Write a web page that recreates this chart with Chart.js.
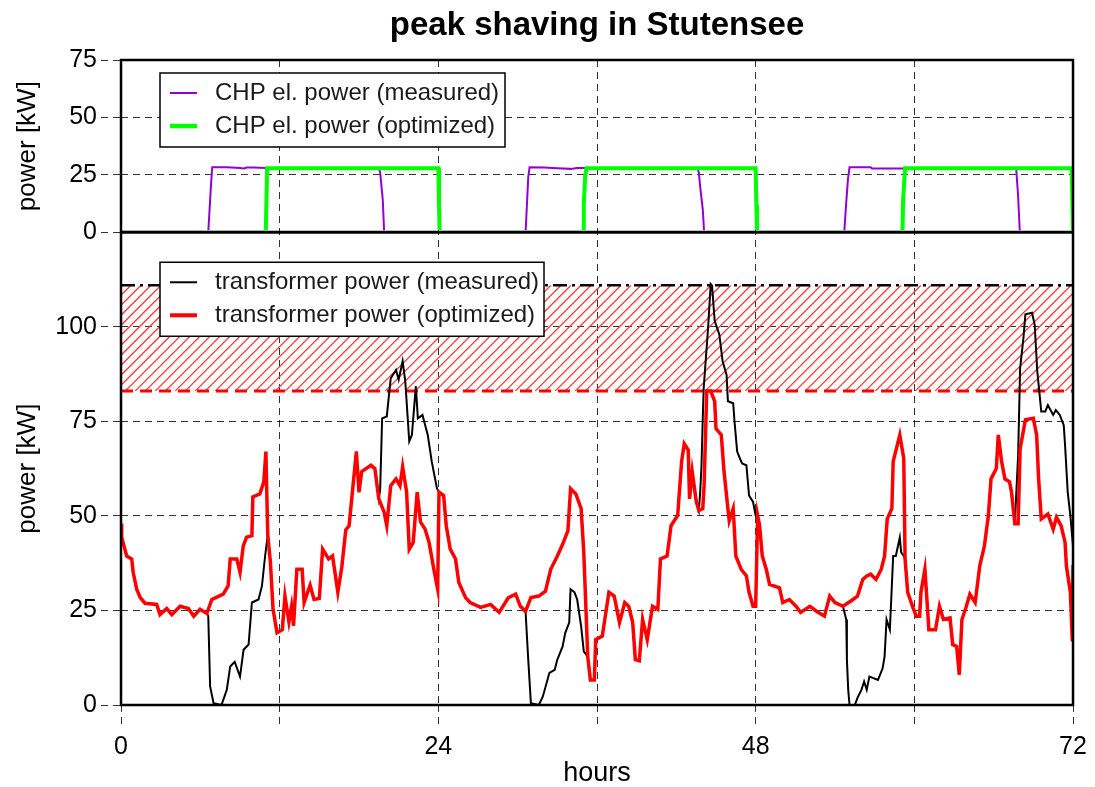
<!DOCTYPE html>
<html lang="en">
<head>
  <meta charset="UTF-8">
  <title>peak shaving in Stutensee</title>
  <script src="https://cdn.jsdelivr.net/npm/chart.js"></script>
  <style>
    body { margin: 0; background: #fff; }
    #chart { display: block; }
  </style>
</head>
<body>
  <canvas id="chart" width="1095" height="787"></canvas>

  <script>
    // [hour, kW]
    const chpMeasured = [
      [0,0],[6.6,0],[6.7,10],[6.8,20],[6.9,28.3],[8,28.3],[9,28],[9.3,27.8],[9.5,28.2],[10,28.2],
      [11,28],[13,28],[15,27.8],[17,28],[19.5,28],[19.6,26],[19.8,14],[19.9,0],
      [30.6,0],[30.7,12],[30.8,24],[30.9,28.3],[32,28.2],[33,27.9],[34,27.6],[34.5,28],[35,28],
      [43.6,27.8],[43.7,26],[43.8,20],[44,10],[44.1,0],
      [54.7,0],[54.85,13],[54.98,23],[55.1,28.3],[56.7,28.3],[56.8,27.8],[59,27.8],
      [67.7,28],[67.85,15.7],[67.97,1],[68.1,0],[72,0]
    ];
    const chpOptimized = [
      [0,0],[10.95,0],[11.0,14],[11.05,27.9],[24.0,27.9],[24.05,12],[24.1,0],
      [34.95,0],[35.0,12],[35.1,24],[35.2,27.9],[48.0,27.9],[48.05,12],[48.1,0],
      [59.1,0],[59.15,14],[59.3,27.9],[71.9,27.9],[72,0]
    ];
    const trafoMeasured = [
      [0,47.9],[0.05,44.4],[0.43,39.4],[0.81,38.6],[0.92,35.1],[1.19,30.6],[1.44,28.5],[1.82,26.9],
      [2.7,26.6],[2.95,23.9],[3.46,25.5],[3.84,23.9],[4.47,26.1],[5.1,25.5],[5.5,23.5],[5.98,25.3],
      [6.49,24.2],[6.6,23.5],[6.74,4.9],[7.0,0.5],[7.6,0],[8.0,4],[8.26,10.2],[8.6,11.4],[9.0,7.5],
      [9.27,14.6],[9.65,16],[9.9,27.1],[10.4,27.9],[10.66,31.5],[10.9,39.4],[11.1,45],
      [11.3,37.7],[11.5,25.3],[11.8,19.1],[12.2,19.9],[12.4,28.8],[12.7,22],[12.9,26.1],[13.05,21],
      [13.3,35.9],[13.7,35.9],[13.85,27.1],[14.3,31.7],[14.6,27.9],[15.0,28.2],[15.25,41.2],
      [15.7,38.6],[16.0,39.4],[16.4,29.8],[16.7,36.5],[17.0,46.3],[17.25,47.4],[17.5,56.3],
      [17.8,67],[18.0,56.3],[18.2,61.7],[18.9,63.4],[19.2,62.5],[19.5,54.5],
      [19.6,57],[19.75,75.8],[20.1,76.3],[20.4,86.4],[20.8,88.6],[21.0,86],[21.3,90.9],[21.5,85.6],
      [21.8,69.7],[22.0,71.4],[22.3,84.3],[22.45,75.8],[22.8,76.7],[23.2,71.4],[23.5,64.4],
      [23.9,57.2],[24.05,56.3],
      [24.4,55.4],[24.6,47.4],[24.9,41.2],[25.3,38.6],[25.55,32.4],[26.06,28.4],[26.4,27.1],
      [27.2,25.8],[27.95,26.6],[28.6,24.5],[29.3,28.4],[29.85,29.3],[30.2,26.1],
      [30.6,24.5],[30.8,12],[31.0,0.5],[31.6,0],[31.9,2.2],[32.4,8.5],[32.8,9.3],[33.0,12],
      [33.4,15.5],[33.6,19.1],[33.9,21.8],[34.0,30.6],[34.3,29.8],[34.5,27.9],[34.8,20.8],
      [35.0,14.2],[35.3,12.8],
      [35.5,6.6],[35.8,6.6],[35.9,17.3],[36.4,18.2],[36.9,29.8],[37.3,28.8],[37.7,21.8],[38.1,27.1],
      [38.4,26.1],[38.7,21.8],[38.9,12],[39.2,11.7],[39.45,22.6],[39.8,17.3],[40.2,26.1],[40.6,25.3],
      [40.8,38.6],[41.3,39.4],[41.6,47.4],[42.1,50.1],[42.4,64.4],[42.6,69.1],[42.9,67.4],[43.0,54.5],
      [43.2,61.7],[43.5,54],[43.7,51.4],
      [43.8,56],[43.9,63],[44.0,76],[44.07,83.8],[44.4,99.7],[44.6,111.3],[44.7,110.9],[44.9,101.6],
      [45.25,98],[45.5,90.9],[45.8,87.3],[45.9,80.3],[46.3,79.8],[46.4,75],[46.6,67],[46.9,64.4],
      [47.0,63.8],[47.3,63.4],[47.5,55.4],[47.8,53.7],[48.0,50.1],[48.15,50.1],
      [48.3,47.4],[48.5,39.4],[48.8,35.9],[49.05,31.9],[49.8,31],[50.05,27.1],[50.55,27.9],
      [51.06,26.1],[51.4,24.5],[52.1,26.1],[52.6,24.8],[53.2,23.5],[53.6,28.8],[54.0,27.1],
      [54.6,26.1],[54.85,22.6],[54.9,12],[55.0,4],[55.1,0],[55.5,0],[55.7,1.9],[56.0,4],[56.2,6.2],
      [56.4,4],[56.6,7.5],[56.9,7.1],[57.25,6.6],[57.6,9.7],[57.75,12.8],[57.9,22.6],[58.15,19.9],
      [58.4,39.4],[58.6,39.4],[58.9,44.3],[59.0,40.4],[59.2,39.4],[59.3,38.6],
      [59.5,29.8],[59.9,25.7],[60.15,23.5],[60.4,23.5],[60.5,29.8],[60.8,35.9],[61.0,25.3],
      [61.1,19.9],[61.6,19.9],[61.9,26.1],[62.2,22.6],[62.7,23],[62.9,16],[63.2,15.5],[63.4,8],
      [63.6,22.6],[63.9,25.7],[64.2,29.3],[64.6,27.1],[64.95,36.8],[65.3,42.1],[65.6,50.1],
      [65.8,59.8],[66.2,62.5],[66.35,71.4],[66.6,64.4],[66.85,59.8],[67.2,59],[67.35,56.3],[67.6,47.9],
      [67.85,66],[68.0,89],[68.25,97],[68.4,103.3],[68.9,103.7],[69.1,100.6],[69.3,88.2],[69.6,77.6],
      [69.9,77.6],[70.1,79.3],[70.5,76.7],[70.7,78],[71.0,76.7],[71.3,74],[71.4,68.7],[71.6,56.3],
      [71.8,50.1],[72.0,42.1]
    ];
    const trafoOptimized = [
      [0,47.9],[0.05,44.4],[0.43,39.4],[0.81,38.6],[0.92,35.1],[1.19,30.6],[1.44,28.5],[1.82,26.9],
      [2.7,26.6],[2.95,23.9],[3.46,25.5],[3.84,23.9],[4.47,26.1],[5.1,25.5],[5.5,23.5],[5.98,25.3],
      [6.49,24.2],[6.87,27.9],[7.73,29.3],[8.1,31.5],[8.26,38.6],[8.76,38.6],[9.0,35.1],[9.25,42.1],
      [9.5,44.4],[9.9,44.8],[9.97,55],[10.5,55.8],[10.8,59],[10.96,67],[11.0,60],[11.1,45],
      [11.3,37.7],[11.5,25.3],[11.8,19.1],[12.2,19.9],[12.4,28.8],[12.7,22],[12.9,26.1],[13.05,21],
      [13.3,35.9],[13.7,35.9],[13.85,27.1],[14.3,31.7],[14.6,27.9],[15.0,28.2],[15.25,41.2],
      [15.7,38.6],[16.0,39.4],[16.4,29.8],[16.7,36.5],[17.0,46.3],[17.25,47.4],[17.5,56.3],
      [17.8,67],[18.0,56.3],[18.2,61.7],[18.9,63.4],[19.2,62.5],[19.5,54.5],[19.9,51],[20.1,47.4],
      [20.4,58],[20.8,59.8],[21.1,58],[21.3,63],[21.6,56.3],[21.8,41.2],[22.1,43],[22.4,56.3],
      [22.65,48.4],[23.0,46.5],[23.3,43],[23.7,35.1],[23.95,30.6],[24.05,56.3],
      [24.4,55.4],[24.6,47.4],[24.9,41.2],[25.3,38.6],[25.55,32.4],[26.06,28.4],[26.4,27.1],
      [27.2,25.8],[27.95,26.6],[28.6,24.5],[29.3,28.4],[29.85,29.3],[30.2,26.1],[30.6,24.8],
      [31.0,28.4],[31.6,28.8],[32.1,30.1],[32.5,35.9],[33.0,39.4],[33.4,42.5],[33.8,46.1],[34.0,57.2],
      [34.4,55.8],[34.8,51.9],[35.0,40.4],[35.3,12.8],
      [35.5,6.6],[35.8,6.6],[35.9,17.3],[36.4,18.2],[36.9,29.8],[37.3,28.8],[37.7,21.8],[38.1,27.1],
      [38.4,26.1],[38.7,21.8],[38.9,12],[39.2,11.7],[39.45,22.6],[39.8,17.3],[40.2,26.1],[40.6,25.3],
      [40.8,38.6],[41.3,39.4],[41.6,47.4],[42.1,50.1],[42.4,64.4],[42.6,69.1],[42.9,67.4],[43.0,54.5],
      [43.2,61.7],[43.5,54],[43.7,51.4],[44.0,51.9],[44.1,58],[44.3,83],[44.6,83],[44.9,80.3],
      [45.0,73.1],[45.4,71.4],[45.6,62],[45.9,51.9],[46.0,48.7],[46.3,51.9],[46.5,39.4],[46.9,35.9],
      [47.3,34.1],[47.5,29.8],[47.8,26.1],[48.0,26.1],[48.15,50.1],
      [48.3,47.4],[48.5,39.4],[48.8,35.9],[49.05,31.9],[49.8,31],[50.05,27.1],[50.55,27.9],
      [51.06,26.1],[51.4,24.5],[52.1,26.1],[52.6,24.8],[53.2,23.5],[53.6,28.8],[54.0,27.1],
      [54.6,26.1],[55.2,27.5],[55.7,28.8],[56.1,33.2],[56.4,34.1],[56.7,34.6],[57.1,33.2],[57.5,35.9],
      [57.75,39.4],[57.95,49.2],[58.3,51.9],[58.4,64.4],[58.9,71.4],[59.2,65.2],[59.3,38.6],
      [59.5,29.8],[59.9,25.7],[60.15,23.5],[60.4,23.5],[60.5,29.8],[60.8,35.9],[61.0,25.3],
      [61.1,19.9],[61.6,19.9],[61.9,26.1],[62.2,22.6],[62.7,23],[62.9,16],[63.2,15.5],[63.4,8],
      [63.6,22.6],[63.9,25.7],[64.2,29.3],[64.6,27.1],[64.95,36.8],[65.3,42.1],[65.6,50.1],
      [65.8,59.8],[66.2,62.5],[66.35,71.4],[66.6,64.4],[66.85,59.8],[67.2,59],[67.35,56.3],[67.6,47.9],
      [67.85,47.9],[68.0,67.8],[68.4,75.4],[69.0,75.8],[69.25,71.4],[69.4,59.8],[69.6,49.2],
      [70.1,50.5],[70.5,46.5],[70.75,49.6],[71.1,47.4],[71.4,43],[71.5,36.8],[71.8,29.8],
      [71.95,16.8],[72.0,37]
    ];
    // peak levels: measured peak and optimized limit
    const peakHours = [0, 72];
    const peakMeasured = [111, 111];
    const peakOptimized = [83, 83];

    const xTicks = [0, 12, 24, 36, 48, 60, 72];
    const xLabels = ['0', '', '24', '', '48', '', '72'];
    const topTicks = [0, 25, 50, 75];
    const bottomTicks = [0, 25, 50, 75, 100];

    const FONT = '"Liberation Sans", Arial, Helvetica, sans-serif';
    const PURPLE = '#9400d3';
    const GREEN = '#00ff00';
    const RED = '#ff0000';
    const GRID = 'rgba(0,0,0,0.8)';

    const toXY = pairs => pairs.map(p => ({ x: p[0], y: p[1] }));
    const levelXY = vals => peakHours.map((h, i) => ({ x: h, y: vals[i] }));

    function drawLegend(c, x, y, w, h, rows) {
      c.save();
      c.fillStyle = '#fff';
      c.fillRect(x, y, w, h);
      c.strokeStyle = '#000';
      c.lineWidth = 1.5;
      c.strokeRect(x, y, w, h);
      c.font = '24px ' + FONT;
      c.textBaseline = 'middle';
      c.textAlign = 'left';
      rows.forEach((r, i) => {
        const ry = y + 20 + i * 33;
        c.strokeStyle = r.color;
        c.lineWidth = r.width;
        c.beginPath();
        c.moveTo(x + 10, ry);
        c.lineTo(x + 37, ry);
        c.stroke();
        c.fillStyle = '#1a1a1a';
        c.fillText(r.text, x + 55, ry);
      });
      c.restore();
    }

    // red diagonal hatching between the two peak levels
    const peakHatch = {
      id: 'peakHatch',
      beforeDatasetsDraw(chart) {
        const c = chart.ctx;
        const xs = chart.scales.x;
        const ys = chart.scales.yBot;
        const x1 = xs.getPixelForValue(peakHours[0]);
        const x2 = xs.getPixelForValue(peakHours[1]);
        const y1 = ys.getPixelForValue(peakMeasured[0]);
        const y2 = ys.getPixelForValue(peakOptimized[0]);
        const h = y2 - y1;
        c.save();
        c.beginPath();
        c.rect(x1, y1, x2 - x1, h);
        c.clip();
        c.strokeStyle = '#ff3b3b';
        c.lineWidth = 1.3;
        c.beginPath();
        for (let x = x1 - h; x < x2 + 10; x += 10) {
          c.moveTo(x, y2);
          c.lineTo(x + h, y1);
        }
        c.stroke();
        c.restore();
      }
    };

    const decorations = {
      id: 'decorations',
      afterDatasetsDraw(chart) {
        const c = chart.ctx;
        const a = chart.chartArea;
        const yTop = chart.scales.yTop;
        c.save();
        c.strokeStyle = '#000';
        c.lineWidth = 2.5;
        c.strokeRect(a.left, a.top, a.right - a.left, a.bottom - a.top);
        c.lineWidth = 3;
        c.beginPath();
        c.moveTo(a.left, yTop.bottom);
        c.lineTo(a.right, yTop.bottom);
        c.stroke();
        c.restore();

        drawLegend(c, a.left + 39, yTop.top + 13, 345, 74, [
          { text: 'CHP el. power (measured)', color: PURPLE, width: 2 },
          { text: 'CHP el. power (optimized)', color: GREEN, width: 4.5 }
        ]);
        drawLegend(c, a.left + 39, yTop.bottom + 30, 384, 74, [
          { text: 'transformer power (measured)', color: '#000', width: 2 },
          { text: 'transformer power (optimized)', color: RED, width: 4 }
        ]);

        c.save();
        c.font = 'bold 33px ' + FONT;
        c.fillStyle = '#000';
        c.textAlign = 'center';
        c.textBaseline = 'middle';
        c.fillText('peak shaving in Stutensee', (a.left + a.right) / 2, 26);
        c.restore();
      }
    };

    const yCommon = {
      type: 'linear',
      position: 'left',
      stack: 'panels',
      grid: { color: GRID, lineWidth: 1, tickLength: 20, tickBorderDash: [7, 5] },
      border: { display: false, dash: [7, 5] },
      ticks: { color: '#000', font: { size: 25, family: FONT }, padding: 4, autoSkip: false },
      title: { display: true, text: 'power [kW]', color: '#000', font: { size: 26, family: FONT }, padding: { top: 12 } },
      afterFit: s => { s.width = 121; }
    };

    // keep the zero level of the CHP lines under the panel border
    const chpClip = { left: 0, top: 0, right: 0, bottom: -2 };

    new Chart(document.getElementById('chart'), {
      type: 'line',
      data: {
        datasets: [
          { label: 'transformer power (optimized)', data: toXY(trafoOptimized), yAxisID: 'yBot',
            borderColor: RED, borderWidth: 3.5, pointRadius: 0, order: 1 },
          { label: 'transformer power (measured)', data: toXY(trafoMeasured), yAxisID: 'yBot',
            borderColor: '#000', borderWidth: 2, pointRadius: 0, order: 2 },
          { label: 'optimized peak', data: levelXY(peakOptimized), yAxisID: 'yBot',
            borderColor: RED, borderWidth: 3, borderDash: [12, 7], pointRadius: 0, order: 3 },
          { label: 'measured peak', data: levelXY(peakMeasured), yAxisID: 'yBot',
            borderColor: '#000', borderWidth: 2.5, borderDash: [14, 5, 3, 5], pointRadius: 0, order: 4 },
          { label: 'CHP el. power (optimized)', data: toXY(chpOptimized), yAxisID: 'yTop',
            borderColor: GREEN, borderWidth: 4, pointRadius: 0, order: 5, clip: chpClip },
          { label: 'CHP el. power (measured)', data: toXY(chpMeasured), yAxisID: 'yTop',
            borderColor: PURPLE, borderWidth: 2, pointRadius: 0, order: 6, clip: chpClip }
        ]
      },
      options: {
        responsive: false,
        animation: false,
        events: [],
        layout: { padding: { left: 0, right: 22, top: 60, bottom: 0 } },
        plugins: { legend: { display: false }, tooltip: { enabled: false } },
        scales: {
          x: {
            type: 'linear',
            min: 0,
            max: 72,
            afterBuildTicks: s => { s.ticks = xTicks.map(v => ({ value: v })); },
            ticks: {
              autoSkip: false, maxRotation: 0, color: '#000', padding: 7,
              font: { size: 25, family: FONT },
              callback: (v, i) => xLabels[i]
            },
            grid: { color: GRID, lineWidth: 1, tickLength: 20, tickBorderDash: [7, 5] },
            border: { display: false, dash: [7, 5] },
            title: { display: true, text: 'hours', color: '#000', font: { size: 27, family: FONT, lineHeight: 1 }, padding: { bottom: 0 } },
            afterFit: s => { s.height = 82; }
          },
          yBot: Object.assign({}, yCommon, {
            min: 0, max: 125, stackWeight: 472,
            afterBuildTicks: s => { s.ticks = bottomTicks.map(v => ({ value: v })); }
          }),
          yTop: Object.assign({}, yCommon, {
            min: 0, max: 75, stackWeight: 172,
            afterBuildTicks: s => { s.ticks = topTicks.map(v => ({ value: v })); }
          })
        }
      },
      plugins: [peakHatch, decorations]
    });
  </script>
</body>
</html>
